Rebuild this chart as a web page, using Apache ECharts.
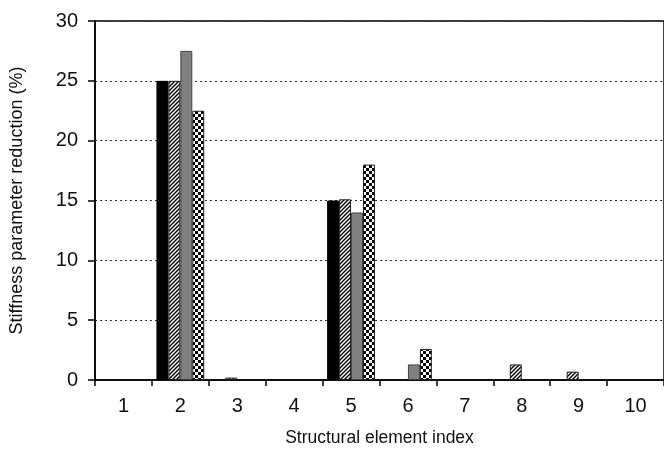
<!DOCTYPE html>
<html>
<head>
<meta charset="utf-8">
<script src="https://cdn.jsdelivr.net/npm/echarts@6/dist/echarts.min.js"></script>
<style>
  html, body { margin: 0; padding: 0; background: #fff; }
  #chart { width: 664px; height: 452px; }
</style>
</head>
<body>
<div id="chart"></div>
<script>
// Element indices along the x axis
const categories = ['1', '2', '3', '4', '5', '6', '7', '8', '9', '10'];

// Stiffness parameter reduction (%) for the four cases
const caseSolid   = [0, 25,   0,   0, 15,   0,   0, 0,   0,   0];
const caseHatched = [0, 25,   0.2, 0, 15.1, 0,   0, 1.3, 0.7, 0];
const caseGrey    = [0, 27.5, 0,   0, 14,   1.3, 0, 0,   0,   0];
const caseChecked = [0, 22.5, 0,   0, 18,   2.6, 0, 0,   0,   0];

const yTicks = { min: 0, max: 30, step: 5 };

const FONT = '"Liberation Sans", Arial, sans-serif';

// Fill patterns for the bars
function hatchPattern() {
  const s = 4;
  const c = document.createElement('canvas');
  c.width = s; c.height = s;
  const g = c.getContext('2d');
  g.fillStyle = '#fff';
  g.fillRect(0, 0, s, s);
  g.strokeStyle = '#000';
  g.lineWidth = 1.4;
  g.beginPath();
  g.moveTo(-1, 1); g.lineTo(1, -1);
  g.moveTo(0, s); g.lineTo(s, 0);
  g.moveTo(s - 1, s + 1); g.lineTo(s + 1, s - 1);
  g.stroke();
  return c;
}

function checkerPattern() {
  const cell = 3;
  const c = document.createElement('canvas');
  c.width = cell * 2; c.height = cell * 2;
  const g = c.getContext('2d');
  g.fillStyle = '#fff';
  g.fillRect(0, 0, cell * 2, cell * 2);
  g.fillStyle = '#000';
  g.fillRect(0, 0, cell, cell);
  g.fillRect(cell, cell, cell, cell);
  return c;
}

const nz = arr => arr.map(v => (v === 0 ? null : v));

function barSeries(name, values, fill, border) {
  return {
    name: name,
    type: 'bar',
    data: nz(values),
    barGap: '0%',
    barCategoryGap: '16%',
    itemStyle: { color: fill, borderColor: border, borderWidth: 1 },
    emphasis: { disabled: true }
  };
}

const chart = echarts.init(document.getElementById('chart'), null, { renderer: 'canvas' });

chart.setOption({
  animation: false,
  backgroundColor: '#fff',
  grid: {
    left: 92, top: 21, right: -10, bottom: 67,
    show: true, borderColor: '#000', borderWidth: 1.5, backgroundColor: 'transparent'
  },
  xAxis: {
    type: 'category',
    data: categories,
    name: 'Structural element index',
    nameLocation: 'middle',
    nameGap: 49,
    nameTextStyle: { fontFamily: FONT, fontSize: 17.5, color: '#111' },
    axisLine: { lineStyle: { color: '#000', width: 1.5 } },
    axisTick: { show: true, interval: 0, length: 6, lineStyle: { color: '#000', width: 1.5 } },
    axisLabel: { fontFamily: FONT, fontSize: 20, color: '#111', margin: 16 },
    splitLine: { show: false }
  },
  yAxis: {
    type: 'value',
    min: yTicks.min, max: yTicks.max, interval: yTicks.step,
    name: 'Stiffness parameter reduction (%)',
    nameLocation: 'middle',
    nameGap: 69,
    nameTextStyle: { fontFamily: FONT, fontSize: 18, color: '#111' },
    axisLine: { show: true, lineStyle: { color: '#000', width: 1.5 } },
    axisTick: { show: true, length: 7, lineStyle: { color: '#000', width: 1.5 } },
    axisLabel: { fontFamily: FONT, fontSize: 20, color: '#111', margin: 17 },
    splitLine: { show: true, lineStyle: { color: '#333', width: 1, type: [2, 3] } }
  },
  series: [
    barSeries('Case A', caseSolid, '#000', '#000'),
    barSeries('Case B', caseHatched, { image: hatchPattern(), repeat: 'repeat' }, '#222'),
    barSeries('Case C', caseGrey, '#808080', '#444'),
    barSeries('Case D', caseChecked, { image: checkerPattern(), repeat: 'repeat' }, '#222')
  ]
});
</script>
</body>
</html>
